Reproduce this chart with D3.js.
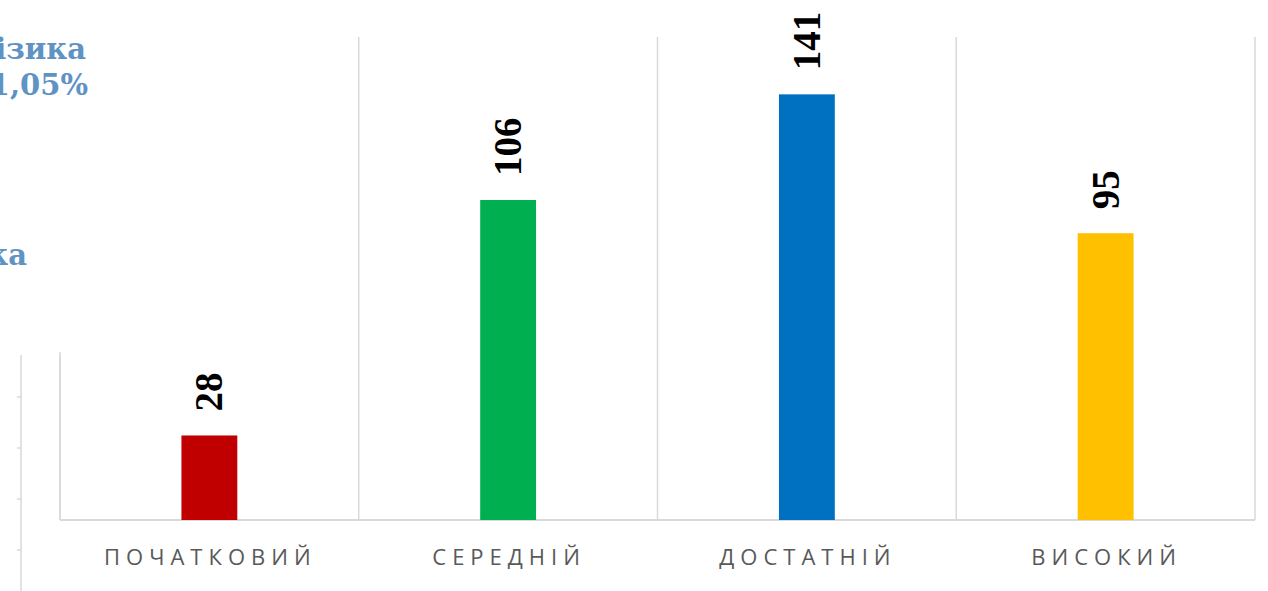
<!DOCTYPE html>
<html>
<head>
<meta charset="utf-8">
<script src="https://cdn.jsdelivr.net/npm/d3@7"></script>
<style>
    body { margin: 0; background: #fff; }
    svg { display: block; }
    .cat_label { font-family: "Open Sans", "Liberation Sans", sans-serif; font-size: 22px; fill: #595959; letter-spacing: 6px; }
    .val_label { font-family: "Liberation Serif", "Times New Roman", serif; font-weight: bold; font-size: 39px; fill: #000; }
    .side_text { font-family: "DejaVu Serif", Georgia, serif; font-weight: bold; font-size: 29px; fill: #5f93c4; }
</style>
</head>
<body>
<div class="levels"></div>
<script>
const width = 1268;
const height = 591;

const margin = { top: 37, bottom: 71, left: 60, right: 13 };

// levels of achievement and number of students at each level
const categories = ["ПОЧАТКОВИЙ", "СЕРЕДНІЙ", "ДОСТАТНІЙ", "ВИСОКИЙ"];
const values = [28, 106, 141, 95];
const colors = ["#c00000", "#00b050", "#0070c0", "#ffc000"];

const y_max = 160;
const bar_ratio = 0.187; // bar width as part of the category cell

const grid_color = "#d9d9d9";

const svg = d3.select(".levels")
    .append("svg")
    .attr("width", width)
    .attr("height", height);

const data = categories.map(function(c, i) {
    return { cat: c, value: values[i], color: colors[i] };
});

/* SCALES */
const x_scale = d3.scaleBand()
    .domain(categories)
    .range([margin.left, width - margin.right])
    .padding(0);

const y_scale = d3.scaleLinear()
    .domain([0, y_max])
    .range([height - margin.bottom, margin.top]);

const bar_w = x_scale.bandwidth() * bar_ratio;

/* GRID */
// vertical separators between categories
const bounds = categories.map(function(c) { return x_scale(c); }).concat([width - margin.right]);

svg.selectAll("line.grid")
    .data(bounds)
    .enter()
    .append("line")
    .attr("class", "grid")
    .attr("x1", function(d) { return d; })
    .attr("x2", function(d) { return d; })
    .attr("y1", y_scale(y_max))
    .attr("y2", y_scale(0))
    .attr("stroke", grid_color)
    .attr("stroke-width", 1.5);

// baseline
svg.append("line")
    .attr("x1", margin.left)
    .attr("x2", width - margin.right)
    .attr("y1", y_scale(0))
    .attr("y2", y_scale(0))
    .attr("stroke", grid_color)
    .attr("stroke-width", 2);

/* BARS */
svg.selectAll("rect.bar")
    .data(data)
    .enter()
    .append("rect")
    .attr("class", "bar")
    .attr("x", function(d) { return x_scale(d.cat) + x_scale.bandwidth() / 2 - bar_w / 2; })
    .attr("y", function(d) { return y_scale(d.value); })
    .attr("width", bar_w)
    .attr("height", function(d) { return y_scale(0) - y_scale(d.value); })
    .attr("fill", function(d) { return d.color; });

// value labels, rotated
svg.selectAll("text.val_label")
    .data(data)
    .enter()
    .append("text")
    .attr("class", "val_label")
    .attr("transform", function(d) {
        var cx = x_scale(d.cat) + x_scale.bandwidth() / 2 + 13;
        var cy = y_scale(d.value) - 24;
        return "translate(" + cx + "," + cy + ") rotate(-90)";
    })
    .text(function(d) { return d.value; });

// category labels
svg.selectAll("text.cat_label")
    .data(data)
    .enter()
    .append("text")
    .attr("class", "cat_label")
    .attr("x", function(d) { return x_scale(d.cat) + x_scale.bandwidth() / 2 + 1; })
    .attr("y", 565)
    .attr("text-anchor", "middle")
    .text(function(d) { return d.cat; });

/* OVERLAPPING SLIDE PIECES */
// white card with cut-off text covering the top left corner
svg.append("rect")
    .attr("x", 0)
    .attr("y", 0)
    .attr("width", 100)
    .attr("height", 352)
    .attr("fill", "#fff");

const side_lines = [
    { text: "Фізика", x: 86, y: 59 },
    { text: "21,05%", x: 88, y: 95 },
    { text: "Математика", x: 27, y: 265 }
];

svg.selectAll("text.side_text")
    .data(side_lines)
    .enter()
    .append("text")
    .attr("class", "side_text")
    .attr("x", function(d) { return d.x; })
    .attr("y", function(d) { return d.y; })
    .attr("text-anchor", "end")
    .text(function(d) { return d.text; });

// edge of another chart peeking in at the bottom left
const side_ticks = [397, 448, 499, 550];

svg.append("line")
    .attr("x1", 21).attr("x2", 21)
    .attr("y1", 355).attr("y2", height)
    .attr("stroke", grid_color)
    .attr("stroke-width", 1.5);

svg.selectAll("line.side_tick")
    .data(side_ticks)
    .enter()
    .append("line")
    .attr("class", "side_tick")
    .attr("x1", 17).attr("x2", 21)
    .attr("y1", function(d) { return d; })
    .attr("y2", function(d) { return d; })
    .attr("stroke", grid_color)
    .attr("stroke-width", 1.5);

// the first chart's left edge only shows below the card
svg.append("line")
    .attr("x1", margin.left).attr("x2", margin.left)
    .attr("y1", 355).attr("y2", y_scale(0))
    .attr("stroke", grid_color)
    .attr("stroke-width", 1.5);
</script>
</body>
</html>
